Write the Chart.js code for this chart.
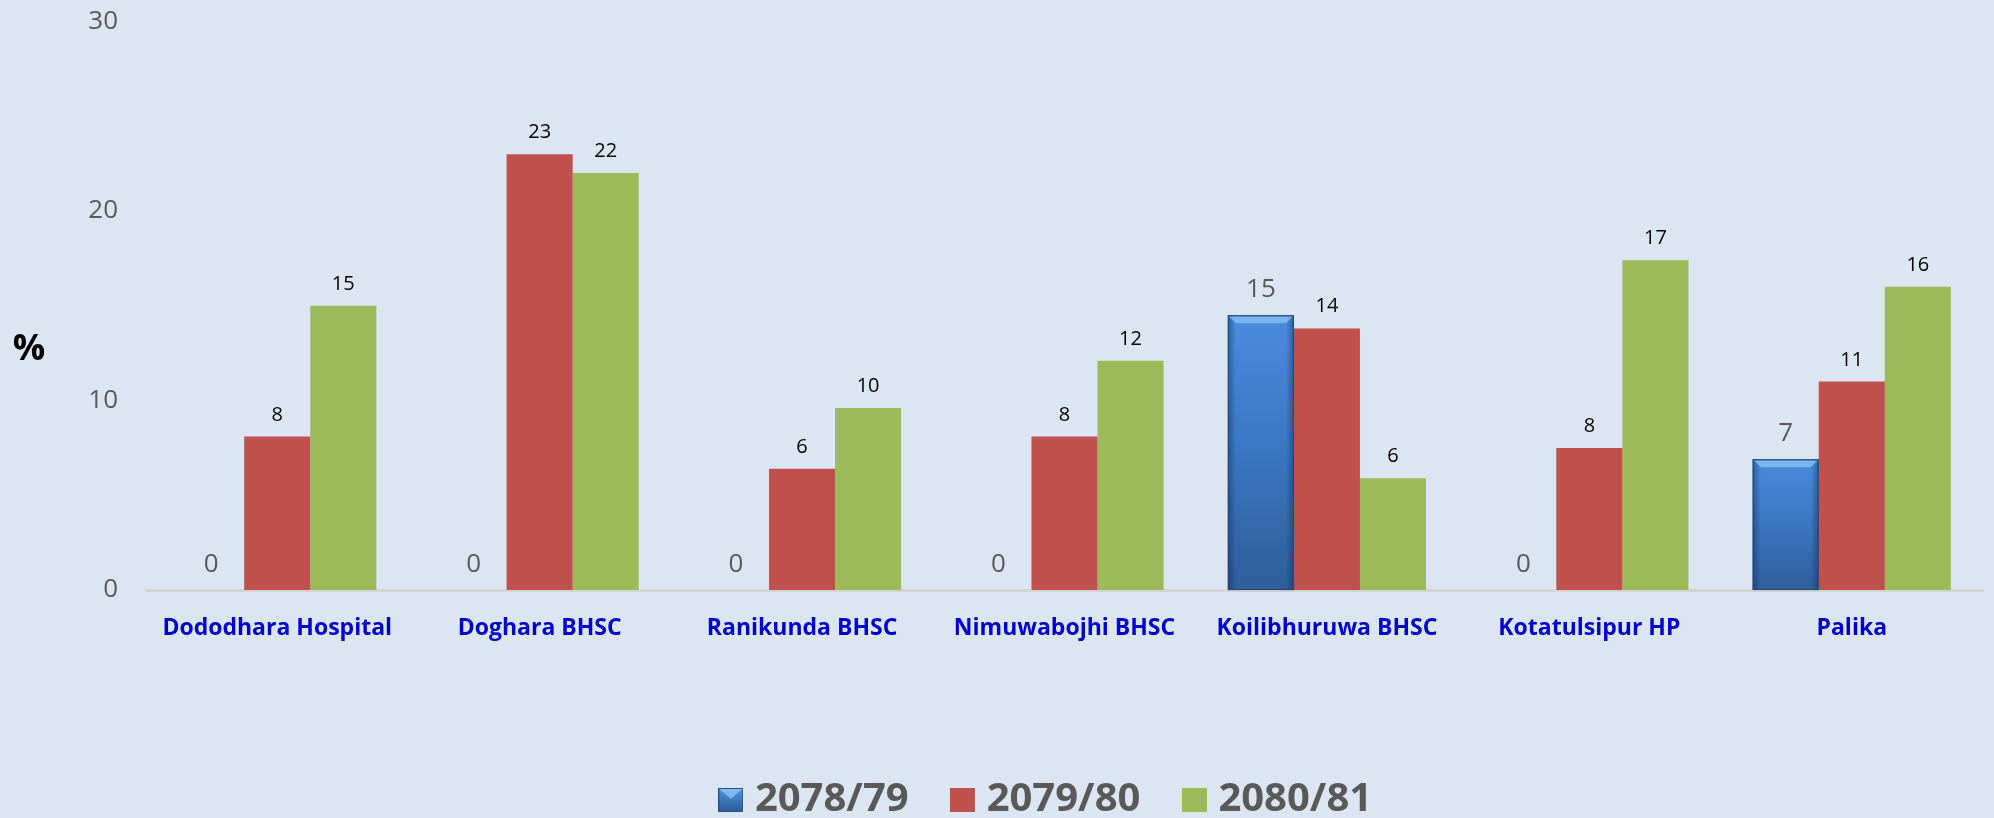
<!DOCTYPE html>
<html>
<head>
<meta charset="utf-8">
<script src="https://cdn.jsdelivr.net/npm/chart.js@4.4.1/dist/chart.umd.min.js"></script>
<style>
  html, body { margin: 0; padding: 0; background: #dce6f2; }
  #wrap { width: 1994px; height: 818px; position: relative; }
</style>
</head>
<body>
<div id="wrap"><canvas id="c"></canvas></div>
<script>
// ---- data ----
const categories = ['Dododhara Hospital', 'Doghara BHSC', 'Ranikunda BHSC', 'Nimuwabojhi BHSC', 'Koilibhuruwa BHSC', 'Kotatulsipur HP', 'Palika'];
const seriesNames = ['2078/79', '2079/80', '2080/81'];
const values2078 = [0, 0, 0, 0, 14.5, 0, 6.9];
const values2079 = [8.1, 23.0, 6.4, 8.1, 13.8, 7.5, 11.0];
const values2080 = [15.0, 22.0, 9.6, 12.1, 5.9, 17.4, 16.0];
const yTicks = [0, 10, 20, 30];

// ---- styles ----
const BG = '#dce6f2';
const RED = '#c0504d';
const GREEN = '#9bbb59';
const GREY_TXT = '#595959';
const FONT = "'Open Sans', 'DejaVu Sans', sans-serif";

function blueBarFill(ctx) {
  const chart = ctx.chart;
  if (ctx.type !== 'data' || !chart.chartArea) return '#3b75c0';
  const ys = chart.scales.y;
  const top = ys.getPixelForValue(ctx.raw || 0);
  const base = ys.getPixelForValue(0);
  if (!isFinite(top) || !isFinite(base) || base - top < 1) return '#3b75c0';
  const g = chart.ctx.createLinearGradient(0, top, 0, base);
  g.addColorStop(0, '#4a8cdc');
  g.addColorStop(0.45, '#3c78c4');
  g.addColorStop(1, '#2f5e9b');
  return g;
}

function makeLegendBox(kind) {
  const c = document.createElement('canvas');
  c.width = 25; c.height = 24;
  const g = c.getContext('2d');
  if (kind === 0) {
    const gr = g.createLinearGradient(0, 0, 0, 24);
    gr.addColorStop(0, '#4f93e2'); gr.addColorStop(1, '#2c5a96');
    g.fillStyle = gr; g.fillRect(0, 0, 25, 24);
    g.fillStyle = 'rgba(150,200,250,0.75)';
    g.beginPath(); g.moveTo(1, 1); g.lineTo(24, 1); g.lineTo(12.5, 11); g.closePath(); g.fill();
    g.strokeStyle = '#2a4e82'; g.lineWidth = 1; g.strokeRect(0.5, 0.5, 24, 23);
  } else {
    g.fillStyle = kind === 1 ? RED : GREEN;
    g.fillRect(0, 0, 25, 24);
  }
  return c;
}
const legendBoxes = [makeLegendBox(0), makeLegendBox(1), makeLegendBox(2)];

const bgPlugin = {
  id: 'bg',
  beforeDraw(chart) {
    const c = chart.ctx;
    c.save(); c.fillStyle = BG; c.fillRect(0, 0, chart.width, chart.height); c.restore();
  }
};

const legendShift = {
  id: 'legendShift',
  afterLayout(chart) {
    const lg = chart.legend;
    if (!lg) return;
    lg.left += 58; lg.right += 58;
    lg.top += 12; lg.bottom += 12;
  }
};

const bevelPlugin = {
  id: 'bevel',
  afterDatasetDraw(chart, args) {
    if (args.index !== 0) return;
    const c = chart.ctx;
    const meta = args.meta;
    meta.data.forEach((el) => {
      const h = el.base - el.y;
      if (h < 2) return;
      const x0 = el.x - el.width / 2, x1 = el.x + el.width / 2;
      c.save();
      const hg = c.createLinearGradient(x0, 0, x1, 0);
      hg.addColorStop(0, 'rgba(10,30,70,0.40)');
      hg.addColorStop(0.12, 'rgba(10,30,70,0.0)');
      hg.addColorStop(0.88, 'rgba(10,30,70,0.0)');
      hg.addColorStop(1, 'rgba(10,30,70,0.40)');
      c.fillStyle = hg;
      c.fillRect(x0, el.y, el.width, h);
      const b = 8;
      c.fillStyle = 'rgba(140,195,245,0.75)';
      c.beginPath();
      c.moveTo(x0 + 1, el.y + 1); c.lineTo(x1 - 1, el.y + 1);
      c.lineTo(x1 - b, el.y + b); c.lineTo(x0 + b, el.y + b);
      c.closePath(); c.fill();
      c.strokeStyle = '#27497a'; c.lineWidth = 1.2;
      c.strokeRect(x0 + 0.5, el.y + 0.5, el.width - 1, h - 1);
      c.restore();
    });
  }
};

const labelPlugin = {
  id: 'valueLabels',
  afterDatasetsDraw(chart) {
    const c = chart.ctx;
    c.save();
    c.textAlign = 'center';
    c.textBaseline = 'alphabetic';
    chart.data.datasets.forEach((ds, di) => {
      const meta = chart.getDatasetMeta(di);
      meta.data.forEach((el, i) => {
        const v = ds.data[i];
        const txt = String(Math.round(v));
        if (di === 0) {
          c.font = '26px ' + FONT;
          c.fillStyle = GREY_TXT;
          c.fillText(txt, el.x, el.y - 18);
        } else {
          c.font = '20px ' + FONT;
          c.fillStyle = '#000000';
          c.fillText(txt, el.x, el.y - 16);
        }
      });
    });
    // axis unit label
    c.font = 'bold 36px ' + FONT;
    c.fillStyle = '#000000';
    c.textBaseline = 'middle';
    c.fillText('%', 29, 350);
    c.restore();
  }
};

new Chart(document.getElementById('c'), {
  type: 'bar',
  data: {
    labels: categories,
    datasets: [
      { label: seriesNames[0], data: values2078, backgroundColor: blueBarFill, borderWidth: 0 },
      { label: seriesNames[1], data: values2079, backgroundColor: RED, borderWidth: 0 },
      { label: seriesNames[2], data: values2080, backgroundColor: GREEN, borderWidth: 0 }
    ]
  },
  options: {
    responsive: true,
    maintainAspectRatio: false,
    animation: false,
    devicePixelRatio: 1,
    layout: { padding: { top: 21.5, right: 11, bottom: 0, left: 0 } },
    datasets: { bar: { categoryPercentage: 0.755, barPercentage: 1.0 } },
    scales: {
      x: {
        grid: { display: false, drawTicks: false },
        border: { display: true, color: '#d3d3d3', width: 3 },
        ticks: {
          color: '#0000cc',
          font: { family: FONT, size: 23, weight: 'bold' },
          padding: 25,
          maxRotation: 0,
          autoSkip: false
        },
        afterFit(s) { s.height = 128; }
      },
      y: {
        min: 0, max: 30,
        grid: { display: false, drawTicks: false },
        border: { display: false },
        ticks: {
          color: GREY_TXT,
          font: { family: FONT, size: 26 },
          padding: 28
        },
        afterBuildTicks(s) { s.ticks = yTicks.map(v => ({ value: v })); },
        afterFit(s) { s.width = 146; s.paddingTop = 0; s.paddingBottom = 0; }
      }
    },
    plugins: {
      tooltip: { enabled: false },
      legend: {
        position: 'bottom',
        align: 'center',
        labels: {
          usePointStyle: true,
          boxWidth: 8,
          boxHeight: 24,
          padding: 50,
          color: GREY_TXT,
          font: { family: FONT, size: 40, weight: 'bold' },
          generateLabels(chart) {
            const items = Chart.defaults.plugins.legend.labels.generateLabels(chart);
            items.forEach((it, i) => { it.pointStyle = legendBoxes[i]; it.fontColor = GREY_TXT; });
            return items;
          }
        }
      }
    }
  },
  plugins: [bgPlugin, legendShift, bevelPlugin, labelPlugin]
});
</script>
</body>
</html>
